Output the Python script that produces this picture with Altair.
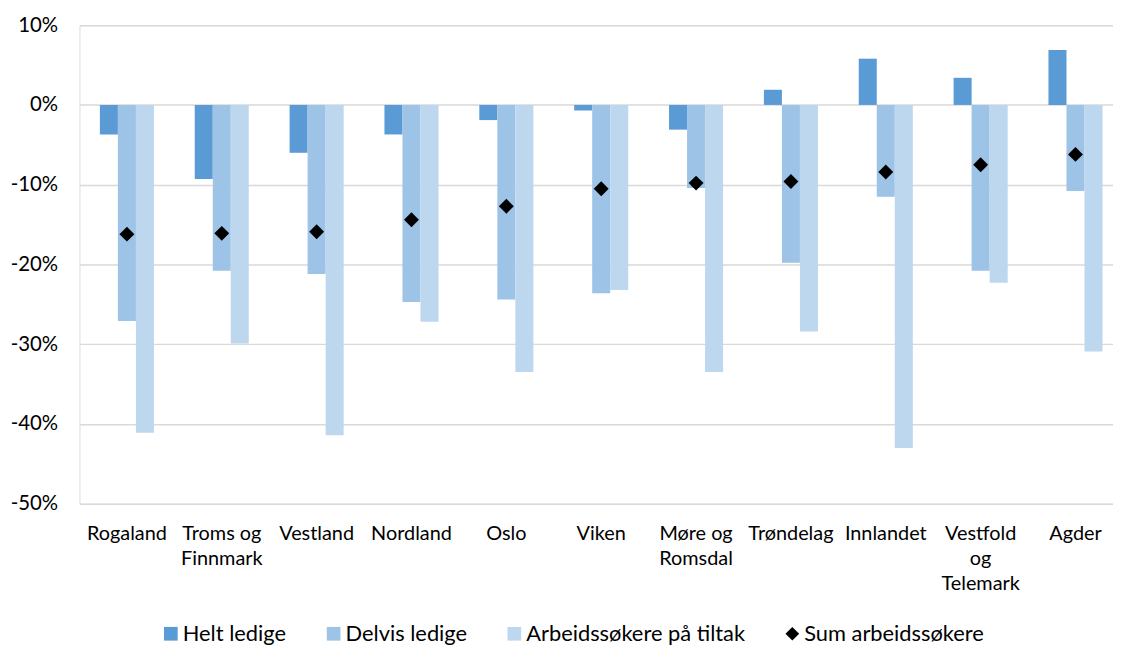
import altair as alt
import pandas as pd

categories = ["Rogaland", "Troms og Finnmark", "Vestland", "Nordland", "Oslo", "Viken",
              "Møre og Romsdal", "Trøndelag", "Innlandet", "Vestfold og Telemark", "Agder"]
series = ["Helt ledige", "Delvis ledige", "Arbeidssøkere på tiltak", "Sum arbeidssøkere"]
helt = [-3.7, -9.3, -6.0, -3.7, -1.9, -0.7, -3.1, 1.9, 5.8, 3.4, 6.9]
delvis = [-27.1, -20.8, -21.2, -24.7, -24.4, -23.6, -10.4, -19.8, -11.5, -20.8, -10.8]
tiltak = [-41.1, -29.9, -41.4, -27.2, -33.5, -23.2, -33.5, -28.4, -43.0, -22.3, -30.9]
total = [-16.2, -16.1, -15.9, -14.4, -12.7, -10.5, -9.8, -9.6, -8.4, -7.5, -6.2]
colors = ["#5B9BD5", "#9DC3E6", "#BDD7EE", "#000000"]
shapes = ["square", "square", "square", "diamond"]

bars = pd.DataFrame(
    [{"kat": c, "serie": series[0], "v": v} for c, v in zip(categories, helt)]
    + [{"kat": c, "serie": series[1], "v": v} for c, v in zip(categories, delvis)]
    + [{"kat": c, "serie": series[2], "v": v} for c, v in zip(categories, tiltak)]
)
pts = pd.DataFrame([{"kat": c, "serie": series[3], "v": v} for c, v in zip(categories, total)])

FONT = "Lato"
color_scale = alt.Scale(domain=series, range=colors)
shape_scale = alt.Scale(domain=series, range=shapes)
legend = alt.Legend(
    title=None, orient="none", legendX=81, legendY=602, direction="horizontal",
    columns=4, symbolSize=190, symbolStrokeWidth=0, labelFontSize=22, labelFont=FONT,
    labelColor="#000000", columnPadding=36, labelOffset=1, labelLimit=400,
    symbolOpacity=1,
)

x_lab = ("datum.label == 'Troms og Finnmark' ? ['Troms og', 'Finnmark'] : "
         "datum.label == 'Møre og Romsdal' ? ['Møre og', 'Romsdal'] : "
         "datum.label == 'Vestfold og Telemark' ? ['Vestfold', 'og', 'Telemark'] : datum.label")

x = alt.X("kat:N", sort=categories, title=None,
          scale=alt.Scale(paddingInner=0.43, paddingOuter=0.215, range=[0, 1051]),
          axis=alt.Axis(orient="bottom", labelAngle=0, domain=False, ticks=False,
                        labelPadding=30, labelFontSize=20, labelFont=FONT, labelColor="#000000",
                        labelLineHeight=25, labelExpr=x_lab, labelBaseline="middle"))
y = alt.Y("v:Q", title=None, scale=alt.Scale(domain=[-50, 10], nice=False, zero=False),
          axis=alt.Axis(values=[10, 0, -10, -20, -30, -40, -50], domain=False, ticks=False,
                        labelPadding=22, labelFontSize=20.5, labelFont=FONT, labelColor="#000000",
                        labelExpr="datum.value + '%'", grid=True, gridColor="#D9D9D9",
                        gridWidth=1.5))

bar_layer = alt.Chart(bars).mark_bar().encode(
    x=x, y=y,
    xOffset=alt.XOffset("serie:N", sort=series[:3], scale=alt.Scale(paddingInner=0, paddingOuter=0)),
    color=alt.Color("serie:N", scale=color_scale, legend=legend),
)

pt_layer = alt.Chart(pts).mark_point(filled=True, size=225, opacity=1).encode(
    x=x, y=y,
    color=alt.Color("serie:N", scale=color_scale, legend=legend),
    shape=alt.Shape("serie:N", scale=shape_scale, legend=legend),
)

chart = alt.layer(bar_layer, pt_layer).properties(
    width=1041, height=482,
    autosize=alt.AutoSizeParams(type="none"),
    padding={"left": 72, "top": 15, "right": 0, "bottom": 140},
).configure_view(stroke=None).configure(background="white")

chart.save("out.html", embed_options={"renderer": "svg", "actions": False})
